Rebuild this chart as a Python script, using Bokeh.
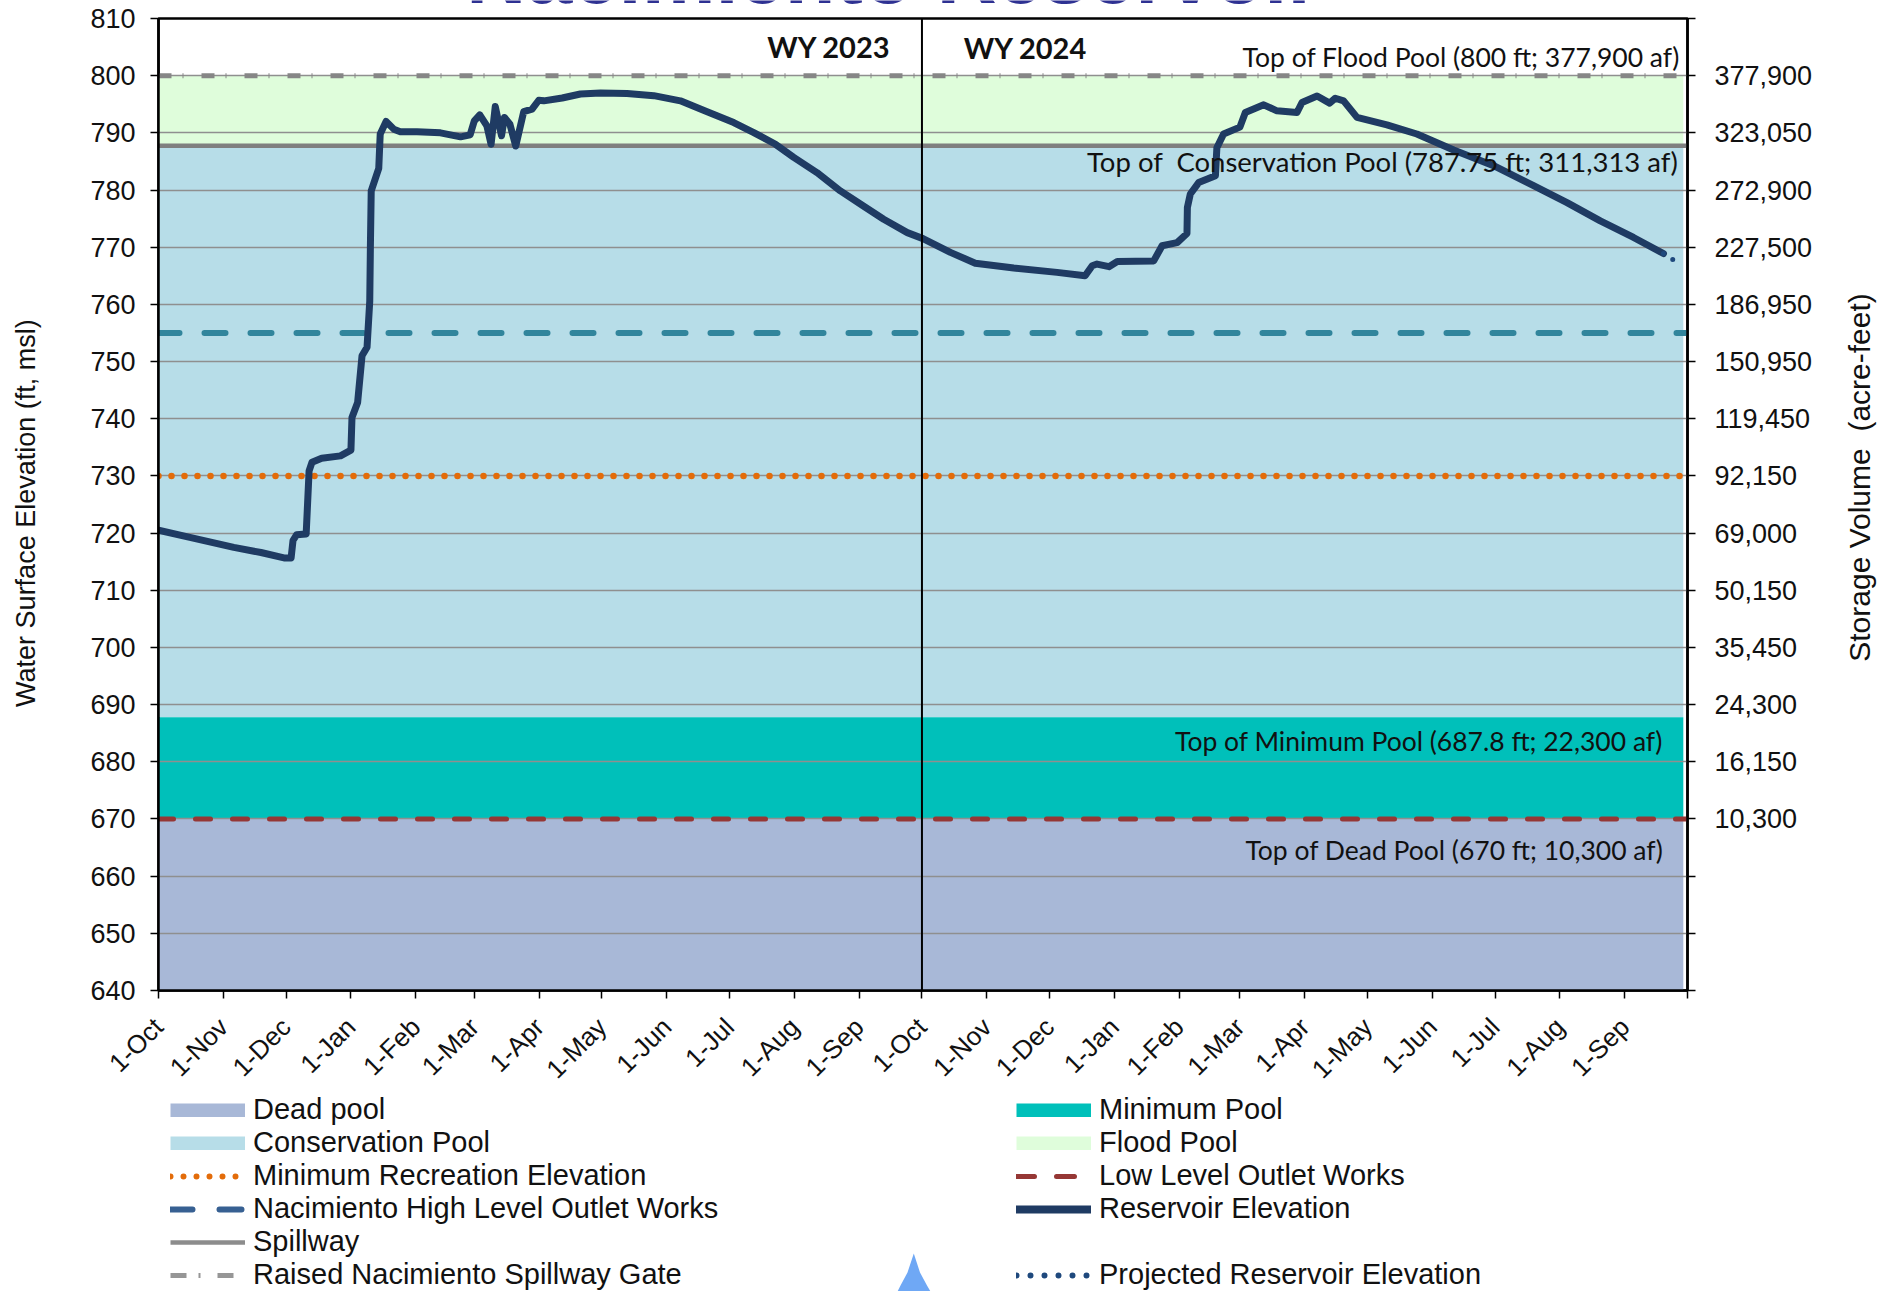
from math import pi
from bokeh.core.properties import value
from bokeh.embed import file_html
from bokeh.layouts import column
from bokeh.models import (FixedTicker, Label, Legend, LegendItem, LinearAxis, Range1d, Span)
from bokeh.plotting import figure
from bokeh.resources import INLINE

month_days = [0, 31, 61, 92, 123, 151, 182, 212, 243, 273, 304, 335, 365, 396, 426, 457, 488, 517, 548, 578, 609, 639, 670, 701, 731]
month_labels = ["1-Oct", "1-Nov", "1-Dec", "1-Jan", "1-Feb", "1-Mar", "1-Apr", "1-May", "1-Jun", "1-Jul", "1-Aug", "1-Sep",
                "1-Oct", "1-Nov", "1-Dec", "1-Jan", "1-Feb", "1-Mar", "1-Apr", "1-May", "1-Jun", "1-Jul", "1-Aug", "1-Sep", ""]
elev_ticks = [640, 650, 660, 670, 680, 690, 700, 710, 720, 730, 740, 750, 760, 770, 780, 790, 800, 810]
storage_labels = ["", "", "", "10,300", "16,150", "24,300", "35,450", "50,150", "69,000", "92,150", "119,450",
                  "150,950", "186,950", "227,500", "272,900", "323,050", "377,900", ""]

res_day = [0, 15, 36, 49, 60, 63.4, 64.3, 66, 70.6, 72, 73.4, 78, 87, 92, 92.5, 95.2, 97.3, 99.7, 101, 101.3, 101.7, 105.3,
           106, 108.8, 112.5, 115.6, 123.6, 134.8, 144.4, 149, 151, 153.6, 157, 159, 161, 164, 165.4, 168, 170.8, 174.6,
           178.6, 181.8, 184.2, 193, 201.7, 211.3, 224, 236.8, 249.5, 262.3, 275, 284.6, 295, 303.7, 314.8, 326, 337,
           346.7, 358, 365.5, 378.6, 390.5, 408.9, 429.6, 443, 446.4, 448.7, 454.4, 458.4, 475.8, 479.8, 487, 491.7, 491.9,
           493.3, 497.3, 505.3, 506, 509.2, 517, 519.6, 528.4, 534.7, 544.3, 546.7, 553.9, 559.9, 562.6, 566.6, 573, 587.3,
           601.6, 619.2, 638.3, 657.4, 673.4, 689.3, 705.2, 719.5]
res_elev = [720.5, 719.25, 717.5, 716.6, 715.65, 715.65, 718.7, 719.7, 719.85, 730.9, 732.4, 733.1, 733.5, 734.5, 740.2,
            742.85, 751, 752.5, 760.6, 770, 779.85, 783.8, 789.8, 792, 790.65, 790.2, 790.2, 790, 789.3, 789.65, 792.1,
            793.15, 791.2, 788, 794.6, 789.5, 792.7, 791.5, 787.7, 793.7, 794.15, 795.7, 795.6, 796.1, 796.8, 796.95, 796.9,
            796.5, 795.6, 793.7, 791.8, 790.05, 788, 785.7, 783.05, 779.85, 777.2, 774.9, 772.55, 771.5, 769.1, 767.2,
            766.35, 765.6, 765, 766.75, 767.05, 766.6, 767.5, 767.6, 770.25, 770.8, 772.4, 776.95, 779.3, 781.3, 782.5,
            787.4, 789.8, 791, 793.55, 794.9, 793.85, 793.55, 795.3, 796.45, 795.2, 796.05, 795.6, 792.7, 791.4, 789.8, 787,
            784.25, 780.75, 777.8, 774.6, 771.7, 768.9]
proj_day = [719.5, 721.5, 727]
proj_elev = [768.9, 768.4, 767.2]

X_FULL = [0, 729]
DEAD_TOP, MIN_TOP, CONS_TOP, FLOOD_TOP = 670, 687.8, 787.75, 800
RECREATION, HIGH_OUTLET = 730, 755

ARIAL = "Liberation Sans"
DEAD_C, CONS_C, FLOOD_C, MIN_C = "#a8b8d7", "#b7dde8", "#dffddb", "#00c0ba"
REC_C, LOW_C, HIGH_C, HIGH_LEG_C = "#e36c0a", "#953735", "#31859c", "#376092"
SPILL_C, GATE_C, RES_C, PROJ_C = "#7f7f7f", "#868686", "#1f3b63", "#1f497d"

p = figure(width=1898, height=1291, output_backend="svg", toolbar_location=None,
           x_range=Range1d(0, 731), y_range=Range1d(640, 810), frame_align=False,
           min_border_left=158, min_border_right=211, min_border_top=18, min_border_bottom=301,
           background_fill_color="white", border_fill_color="white")
p.outline_line_color = "black"
p.outline_line_width = 2.5
p.xgrid.visible = False
p.ygrid.ticker = FixedTicker(ticks=elev_ticks)
p.ygrid.grid_line_color = "#8f8f8f"
p.ygrid.grid_line_width = 1.5
p.ygrid.level = "underlay"

p.xaxis.ticker = FixedTicker(ticks=month_days)
p.xaxis.major_label_overrides = dict(zip(month_days, month_labels))
p.xaxis.major_label_orientation = pi / 4
p.yaxis.ticker = FixedTicker(ticks=elev_ticks)
right = LinearAxis(ticker=FixedTicker(ticks=elev_ticks), major_label_overrides=dict(zip(elev_ticks, storage_labels)))
p.add_layout(right, "right")
for ax, standoff, size in ((p.xaxis[0], 24, "26px"), (p.yaxis[0], 15, "27px"), (right, 19, "27px")):
    ax.axis_line_color = "black"
    ax.axis_line_width = 2.5
    ax.major_tick_line_color = "black"
    ax.major_tick_line_width = 1.5
    ax.major_tick_in = 0
    ax.major_tick_out = 8
    ax.minor_tick_line_color = None
    ax.major_label_text_font = ARIAL
    ax.major_label_text_font_size = size
    ax.major_label_text_color = "#111111"
    ax.major_label_standoff = standoff

def band(bottom, top, color):
    return p.quad(left=X_FULL[0], right=X_FULL[1], bottom=bottom, top=top, fill_color=color, line_color=None, level="image")

band(640, DEAD_TOP, DEAD_C)
band(MIN_TOP, CONS_TOP, CONS_C)
band(CONS_TOP, FLOOD_TOP, FLOOD_C)
band(DEAD_TOP, MIN_TOP, MIN_C)

def hline(y, color, width, dash, cap="butt"):
    return p.line(x=[0, 731], y=[y, y], line_color=color, line_width=width, line_dash=dash, line_cap=cap)

hline(CONS_TOP, SPILL_C, 4.5, "solid")
hline(FLOOD_TOP, GATE_C, 5, "13 11 1 18")
hline(RECREATION, REC_C, 6.5, "0 13", "round")
hline(DEAD_TOP, LOW_C, 5, "15 22", "round")
hline(HIGH_OUTLET, HIGH_C, 6, "21 25", "round")
p.add_layout(Span(location=365, dimension="height", line_color="black", line_width=2))
p.line(x=res_day, y=res_elev, line_color=RES_C, line_width=7, line_join="round", line_cap="round")
p.line(x=proj_day, y=proj_elev, line_color=PROJ_C, line_width=5, line_dash="0 11", line_cap="round")

def label(text, x, y, align="left", size="26.5px", style="normal"):
    p.add_layout(Label(x=x, y=y, text=text, text_align=align, text_baseline="middle", text_font="Lato",
                       text_font_size=size, text_font_style=style, text_color="#111111"))

label("WY 2023", 291, 805.1, size="29px", style="bold")
label("WY 2024", 385, 804.9, size="29px", style="bold")
label("Top of Flood Pool (800 ft; 377,900 af)", 727.3, 803.35, align="right", size="26.5px")
label("Top of\u00a0 Conservation Pool (787.75 ft; 311,313 af)", 726.4, 784.95, align="right", size="27.5px")
label("Top of Minimum Pool (687.8 ft; 22,300 af)", 719.2, 683.6, align="right")
label("Top of Dead Pool (670 ft; 10,300 af)", 719.4, 664.6, align="right")

# page-sized layer in pixel units for everything that lies outside the chart frame
bg = figure(width=1898, height=1291, output_backend="svg", toolbar_location=None,
            x_range=Range1d(0, 1898), y_range=Range1d(1291, 0), x_axis_type=None, y_axis_type=None,
            min_border=0, margin=(-1291, 0, 0, 0), outline_line_color=None, frame_align=False,
            background_fill_alpha=0, border_fill_alpha=0)
bg.grid.visible = False

def page_text(text, x, y, font, size, color="#111111", style="normal", angle=0, align="center", baseline="middle"):
    bg.text(x=[x], y=[y], text=[text], text_font=value(font), text_font_size=value(size), text_color=color,
            text_font_style=style, angle=angle, text_align=align, text_baseline=baseline)

page_text("Nacimiento Reservoir", 892.5, -26, ARIAL, "83px", color="#2e3192", style="bold", baseline="alphabetic")
page_text("Water Surface Elevation (ft, msl)", 25, 512.6, ARIAL, "27px", angle=pi / 2)
page_text("Storage Volume\u00a0 (acre-feet)", 1859, 477, ARIAL, "30px", angle=pi / 2)
bg.patch(x=[913.3, 907, 900, 897, 930, 926.5, 919.5], y=[1253, 1272, 1285, 1291, 1291, 1285, 1272], fill_color="#6fa8f5", line_color=None)

def proxy(color, width, dash="solid", cap="butt"):
    return bg.line(x=[-200, -100], y=[-200, -200], line_color=color, line_width=width, line_dash=dash, line_cap=cap)

def legend(items, x, vy):
    lg = Legend(items=[LegendItem(label=value(t), renderers=[r]) for t, r in items], location=(x, vy),
                orientation="vertical", glyph_width=75, glyph_height=14, label_standoff=8, spacing=0,
                padding=0, margin=0, border_line_color=None, background_fill_alpha=0,
                label_text_font=ARIAL, label_text_font_size="29px", label_text_color="#111111", label_height=33)
    bg.add_layout(lg, "center")

legend([("Dead pool", proxy(DEAD_C, 14)), ("Conservation Pool", proxy(CONS_C, 14)),
        ("Minimum Recreation Elevation", proxy(REC_C, 6, "0 13", "round")),
        ("Nacimiento High Level Outlet Works", proxy(HIGH_LEG_C, 6, "22 27", "round")),
        ("Spillway", proxy("#8c8c8c", 4.5)), ("Raised Nacimiento Spillway Gate", proxy("#969696", 5, "16 12 2 17"))], 170, 0)
legend([("Minimum Pool", proxy(MIN_C, 14)), ("Flood Pool", proxy(FLOOD_C, 14)),
        ("Low Level Outlet Works", proxy(LOW_C, 5, "18 22", "round")), ("Reservoir Elevation", proxy(RES_C, 8, "solid", "round"))], 1016, 66)
legend([("Projected Reservoir Elevation", proxy(PROJ_C, 6, "0 14", "round"))], 1016, 0)

open("out.html", "w").write(file_html(column(p, bg, spacing=0), INLINE))
